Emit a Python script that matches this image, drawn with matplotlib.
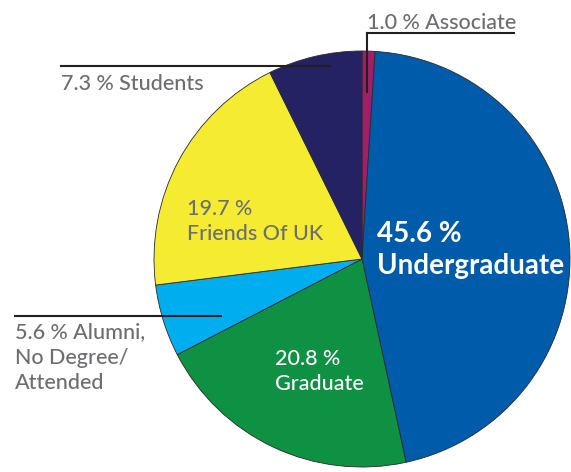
import matplotlib
matplotlib.use('Agg')
import matplotlib.pyplot as plt

# Data
labels = ['Associate', 'Undergraduate', 'Graduate', 'Alumni, No Degree/Attended',
          'Friends Of UK', 'Students']
shares = [1.0, 45.6, 20.8, 5.6, 19.7, 7.3]
colors = ['#A11E6B', '#005BAA', '#0F9143', '#00AEEF', '#F5EC31', '#252263']

W, H = 571, 472
GRAY = '#6D6E71'
FONT = ['Lato', 'DejaVu Sans']

fig = plt.figure(figsize=(W / 100, H / 100), dpi=100)
ax = fig.add_axes([0, 0, 1, 1])


def py(y):
    # pixel row (from top) to data y
    return H - y


cx, cy, r = 362, py(259), 208
ax.pie(shares, colors=colors, startangle=90, counterclock=False,
       center=(cx, cy), radius=r, frame=True,
       wedgeprops=dict(edgecolor='#2a2a2a', linewidth=0.6))
ax.set_xlim(0, W)
ax.set_ylim(0, H)
ax.set_aspect('equal')
ax.axis('off')

# Leader lines
lc = '#231F20'
ax.plot([367, 514], [py(33), py(33)], color=lc, lw=1.5)
ax.plot([367, 367], [py(33), py(92)], color=lc, lw=1.5)
ax.plot([61, 330], [py(66), py(66)], color=lc, lw=1.5)
ax.plot([15, 221], [py(316), py(316)], color=lc, lw=1.5)

# Labels
kw = dict(ha='left', va='baseline', fontsize=15.5, family=FONT, fontweight='medium')
ax.text(367, py(29), f'{shares[0]:.1f} % {labels[0]}', color=GRAY, **kw)
ax.text(61, py(90), f'{shares[5]:.1f} % {labels[5]}', color=GRAY, **kw)
ax.text(187, py(215), f'{shares[4]:.1f} %', color=GRAY, **kw)
ax.text(187, py(240), labels[4], color=GRAY, **kw)
ax.text(15, py(338), f'{shares[3]:.1f} % Alumni,', color=GRAY, **kw)
ax.text(15, py(364), 'No Degree/', color=GRAY, **kw)
ax.text(15, py(389), 'Attended', color=GRAY, **kw)
ax.text(275, py(365), f'{shares[2]:.1f} %', color='white', **kw)
ax.text(275, py(390), labels[2], color='white', **kw)
kb = dict(kw, fontsize=20, fontweight='bold')
ax.text(377, py(242), f'{shares[1]:.1f} %', color='white', **kb)
ax.text(377, py(274), labels[1], color='white', **kb)

plt.savefig('out.png', dpi=100)
